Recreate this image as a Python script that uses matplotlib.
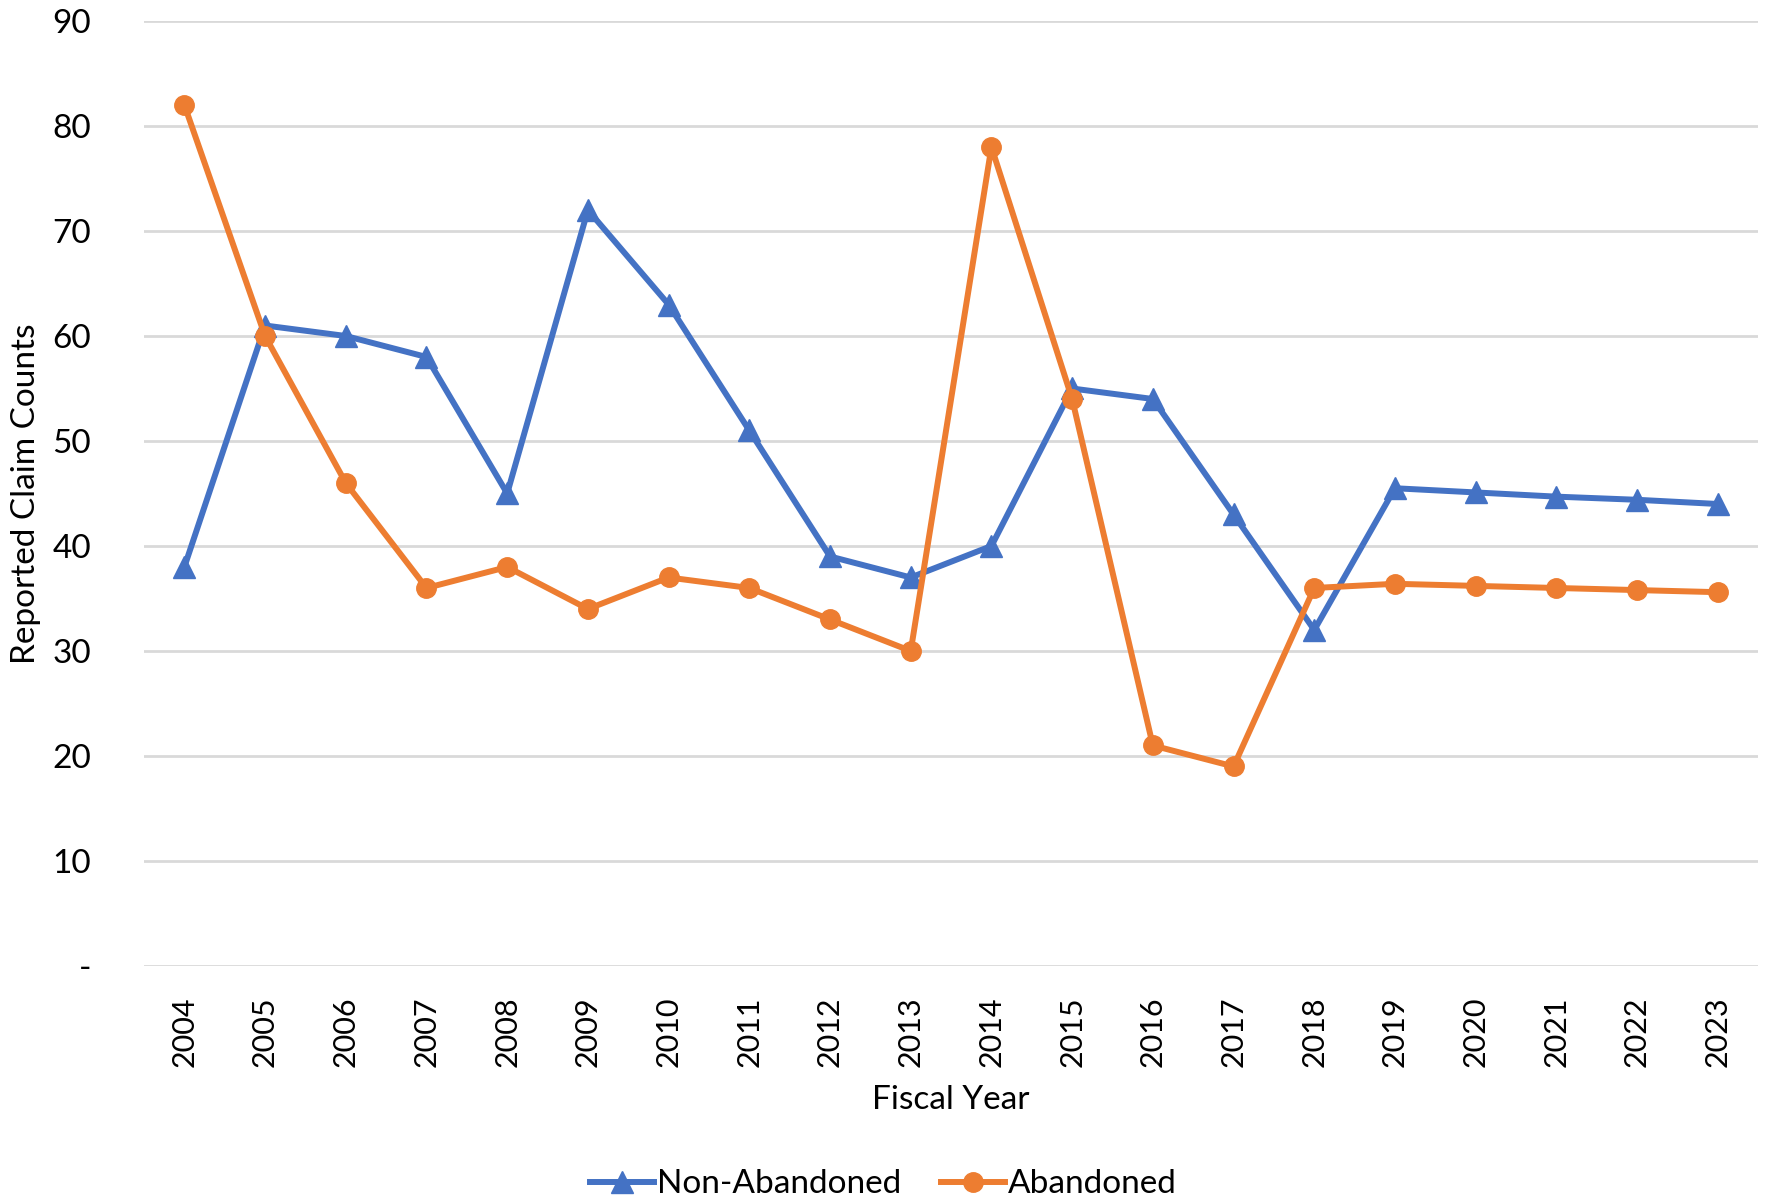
import numpy as np
from matplotlib import pyplot as plt

years = ['2004', '2005', '2006', '2007', '2008', '2009', '2010', '2011', '2012', '2013',
         '2014', '2015', '2016', '2017', '2018', '2019', '2020', '2021', '2022', '2023']
non_abandoned = [38, 61, 60, 58, 45, 72, 63, 51, 39, 37, 40, 55, 54, 43, 32, 45.5, 45.1, 44.7, 44.4, 44.0]
abandoned = [82, 60, 46, 36, 38, 34, 37, 36, 33, 30, 78, 54, 21, 19, 36, 36.4, 36.2, 36.0, 35.8, 35.6]
y_ticks = [0, 10, 20, 30, 40, 50, 60, 70, 80, 90]
y_tick_labels = ['-', '10', '20', '30', '40', '50', '60', '70', '80', '90']

plt.rcParams['font.family'] = ['Lato', 'DejaVu Sans']

fig = plt.figure(figsize=(17.67, 12.01), dpi=100)
ax = fig.add_axes([0.0815, 0.1957, 0.9135, 0.7868])

x = np.arange(len(years))
ax.plot(x, non_abandoned, color='#4472C4', linewidth=4.3, marker='^', ms=16, label='Non-Abandoned')
ax.plot(x, abandoned, color='#ED7D31', linewidth=4.3, marker='o', ms=14, label='Abandoned')

ax.set_xlim(-0.5, len(years) - 0.5)
ax.set_ylim(0, 90)
ax.set_xticks(x)
ax.set_xticklabels(years, rotation=90, fontsize=22)
ax.set_yticks(y_ticks)
ax.set_yticklabels(y_tick_labels, fontsize=24)
ax.tick_params(length=0, axis='x', pad=22)
ax.tick_params(length=0, axis='y', pad=38)

ax.grid(axis='y', color='#D9D9D9', linewidth=2)
ax.set_axisbelow(True)
for s in ax.spines.values():
    s.set_visible(False)

ax.set_xlabel('Fiscal Year', fontsize=24, labelpad=13)
ax.set_ylabel('Reported Claim Counts', fontsize=24, va='center')
ax.yaxis.set_label_coords(-0.073, 0.5)

fig.legend(loc='center', bbox_to_anchor=(0.5, 0.014), ncol=2, frameon=False,
           fontsize=24, handlelength=1.9, handletextpad=0.1, columnspacing=1.2)

fig.savefig('out.png', dpi=100)
